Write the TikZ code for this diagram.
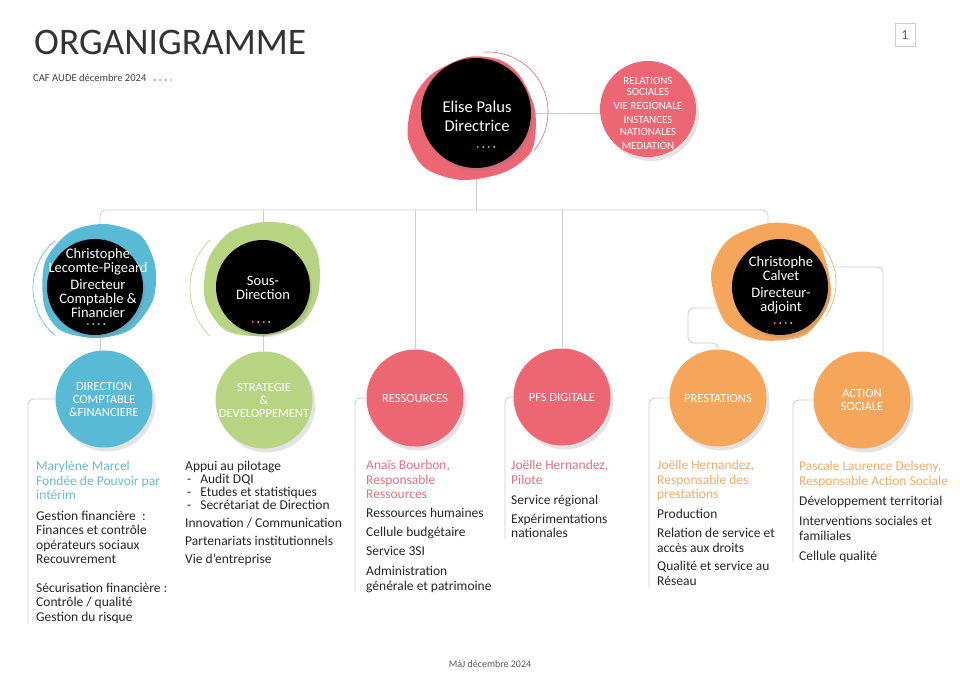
\documentclass[tikz,border=0pt]{standalone}
\usepackage{fontspec}
\setmainfont{Carlito}
\usetikzlibrary{shadows}
\definecolor{cafblue}{RGB}{88,186,212}
\definecolor{cafgreen}{RGB}{183,212,130}
\definecolor{cafpink}{RGB}{236,102,116}
\definecolor{caforange}{RGB}{246,166,90}
\definecolor{linegray}{RGB}{205,205,205}
\definecolor{nameblue}{RGB}{105,185,212}
\definecolor{namepink}{RGB}{230,112,128}
\definecolor{nameorange}{RGB}{244,172,105}
\pgfdeclarelayer{back}
\pgfsetlayers{back,main}
\newcommand{\fourdots}[2]{%
  \foreach \dotcol [count=\k] in {cafpink,caforange,cafblue,cafgreen}
    \fill[\dotcol] (#1+\k*5.5-13.75,#2) circle[radius=1.2];}
\begin{document}
\begin{tikzpicture}
[x=1pt,y=-1pt,
  bossdecorate/.style={shape=circle,fill=black,minimum size=96pt,inner sep=0pt,
    drop shadow={opacity=0.25,shadow xshift=2pt,shadow yshift=-3pt}},
  bosstextdecorate/.style={text=white,align=center,inner sep=0pt,
    font=\fontsize{14.5}{14}\selectfont},
  unitdecorate/.style={shape=circle,minimum size=97pt,inner sep=0pt,text=white,
    align=center,font=\fontsize{12.5}{13}\selectfont,
    drop shadow={opacity=0.22,shadow xshift=3pt,shadow yshift=-4pt}},
  listdecorate/.style={anchor=north west,inner sep=0pt,align=left,text=black!85,
    font=\fontsize{13.5}{14.5}\selectfont},
  linkdecorate/.style={draw=linegray,line width=0.8pt,rounded corners=6pt},
  blobdecorate/.style={line width=0.6pt}]
\useasboundingbox (0,0) rectangle (960,679);
\begin{pgfonlayer}{back}
  \fill[white] (0,0) rectangle (960,679);
\end{pgfonlayer}
%% header
\node[anchor=base west,inner sep=0pt,text=black!80,font=\fontsize{37.5}{38}\selectfont]
  (title) at (34,55) {ORGANIGRAMME};
\node[anchor=base west,inner sep=0pt,text=black!75,font=\fontsize{10.6}{11}\selectfont]
  (subtitle) at (33,82) {CAF AUDE décembre 2024};
\fourdots{163}{80}
\node[draw=linegray,minimum width=20pt,minimum height=23pt,inner sep=0pt,
  text=black!60,font=\fontsize{14}{14}\selectfont] (page) at (905,35) {1};
\node[anchor=base,inner sep=0pt,text=black!65,font=\fontsize{10}{10}\selectfont]
  (footer) at (490,667) {MàJ décembre 2024};
%% blobs behind the heads
\fill[cafpink] plot[smooth cycle] coordinates {(432,74) (468,57) (500,60) (520,76)
  (535,110) (532,150) (505,172) (462,180) (425,168) (408,138) (413,100)};
\draw[cafpink,blobdecorate] (488,112) ++(-95:60) arc[start angle=-95,end angle=40,radius=60];
\fill[cafblue] plot[smooth cycle] coordinates {(45,262) (70,232) (105,224) (140,235)
  (155,265) (153,300) (130,330) (95,338) (60,330) (44,305)};
\draw[cafblue,blobdecorate] (95,288) ++(130:62) arc[start angle=130,end angle=230,radius=62];
\fill[cafgreen] plot[smooth cycle] coordinates {(208,260) (230,232) (265,222) (300,228)
  (318,255) (318,295) (300,325) (263,336) (225,330) (205,300)};
\draw[cafgreen,blobdecorate] (258,288) ++(135:68) arc[start angle=135,end angle=225,radius=68];
\fill[caforange] plot[smooth cycle] coordinates {(711,275) (728,240) (770,223) (810,230)
  (826,262) (830,300) (805,335) (760,340) (725,322)};
\draw[caforange,blobdecorate] (778,283) ++(-95:58) arc[start angle=-95,end angle=35,radius=58];
%% heads
\node[bossdecorate,minimum size=110pt] (elise) at (476,113) {};
\node[bosstextdecorate,font=\fontsize{16.5}{19}\selectfont] (elisetext) at (477,116)
  {Elise Palus\\Directrice};
\fourdots{486}{147}
\node[unitdecorate,fill=cafpink,minimum size=96pt,font=\fontsize{11}{11.5}\selectfont]
  (relations) at (648,109) {};
\node[text=white,align=center,inner sep=0pt,font=\fontsize{11}{11.5}\selectfont]
  (relationstext) at (648,113)
  {RELATIONS\\SOCIALES\\[2.5pt]VIE REGIONALE\\[2.5pt]INSTANCES\\NATIONALES\\[2.5pt]MEDIATION};
\node[bossdecorate] (lp) at (95,287) {};
\node[bosstextdecorate] (lptext) at (98,283.5)
  {Christophe\\Lecomte-Pigeard\\[3pt]Directeur\\Comptable \&\\Financier};
\fourdots{96}{324}
\node[bossdecorate,minimum size=94pt] (sous) at (263,287) {};
\node[bosstextdecorate] (soustext) at (263,288) {Sous-\\Direction};
\fourdots{261}{322}
\node[bossdecorate] (calvet) at (780,287) {};
\node[bosstextdecorate] (calvettext) at (781,285)
  {Christophe\\Calvet\\[3pt]Directeur-\\adjoint};
\fourdots{783}{323}
%% units
\foreach \nodename/\x/\y/\colour/\unitname in {
  dcf/104/399/cafblue/{DIRECTION\\COMPTABLE\\\&FINANCIERE},
  strat/264/400/cafgreen/{STRATEGIE\\\&\\DEVELOPPEMENT},
  ress/415/398/cafpink/RESSOURCES, pfs/562/397/cafpink/PFS DIGITALE,
  prest/718/398/caforange/PRESTATIONS, action/862/400/caforange/{ACTION\\SOCIALE}} {
  \node[unitdecorate,fill=\colour] (\nodename) at (\x,\y) {\unitname};
}
%% lists
\node[listdecorate] (dcflist) at (36,461)
  {\textcolor{nameblue}{Marylène Marcel}\\\textcolor{nameblue}{Fondée de Pouvoir par}\\
   \textcolor{nameblue}{intérim}\\[6pt]
   Gestion financière\ \ :\\Finances et contrôle\\opérateurs sociaux\\Recouvrement\\[14pt]
   Sécurisation financière :\\Contrôle / qualité\\Gestion du risque};
\node[listdecorate] (stratlist) at (185,461)
  {Appui au pilotage\\[-1.5pt]
   \hspace*{2pt}-\hspace{9pt}Audit DQI\\[-1.5pt]
   \hspace*{2pt}-\hspace{9pt}Etudes et statistiques\\[-1.5pt]
   \hspace*{2pt}-\hspace{9pt}Secrétariat de Direction\\[3.5pt]
   Innovation / Communication\\[3.5pt]Partenariats institutionnels\\[3.5pt]
   Vie d’entreprise};
\node[listdecorate] (resslist) at (366,460)
  {\textcolor{namepink}{Anaïs Bourbon,}\\\textcolor{namepink}{Responsable}\\
   \textcolor{namepink}{Ressources}\\[4.5pt]
   Ressources humaines\\[4.5pt]Cellule budgétaire\\[4.5pt]Service 3SI\\[5.5pt]
   Administration\\générale et patrimoine};
\node[listdecorate] (pfslist) at (511,460)
  {\textcolor{namepink}{Joëlle Hernandez,}\\\textcolor{namepink}{Pilote}\\[5.5pt]
   Service régional\\[4.5pt]Expérimentations\\nationales};
\node[listdecorate] (prestlist) at (657,460)
  {\textcolor{nameorange}{Joëlle Hernandez,}\\\textcolor{nameorange}{Responsable des}\\
   \textcolor{nameorange}{prestations}\\[5.5pt]
   Production\\[4.5pt]Relation de service et\\accès aux droits\\[4pt]
   Qualité et service au\\Réseau};
\node[listdecorate] (actionlist) at (799,461)
  {\textcolor{nameorange}{Pascale Laurence Delseny,}\\
   \textcolor{nameorange}{Responsable Action Sociale}\\[6pt]
   Développement territorial\\[5.5pt]Interventions sociales et\\familiales\\[6pt]
   Cellule qualité};
%% links
\begin{pgfonlayer}{back}
  \coordinate (bar) at (476,210);
  \draw[linkdecorate] (elise) -- (bar);
  \draw[linkdecorate] (elise) -- (elise -| relations);
  \draw[linkdecorate] ([xshift=5pt]lp.center) |- (bar) -| ([xshift=-12pt]calvet.center);
  \foreach \startnode/\endnode in {sous/sous, ress/ress, pfs/pfs} {
    \draw[linkdecorate] (\startnode) -- (\endnode |- bar);
  }
  \draw[linkdecorate] ([xshift=5pt]lp.center) -- ([xshift=5pt]lp.center |- dcf.center);
  \draw[linkdecorate] (sous) -- (strat);
  \draw[linkdecorate] ([yshift=20pt]calvet.center) -| ([xshift=21pt]action.center);
  \coordinate (prestbend) at (688,343);
  \draw[linkdecorate] ([yshift=-21pt]calvet.center) -| (prestbend) -| (prest);
  \foreach \unit/\xline/\yend in {dcf/28/624, ress/355/592, pfs/505/539,
    prest/649/587, action/793/562} {
    \coordinate (\unit end) at (\xline,\yend);
    \draw[linkdecorate] (\unit.center) -| (\unit end);
  }
\end{pgfonlayer}
\end{tikzpicture}
\end{document}
